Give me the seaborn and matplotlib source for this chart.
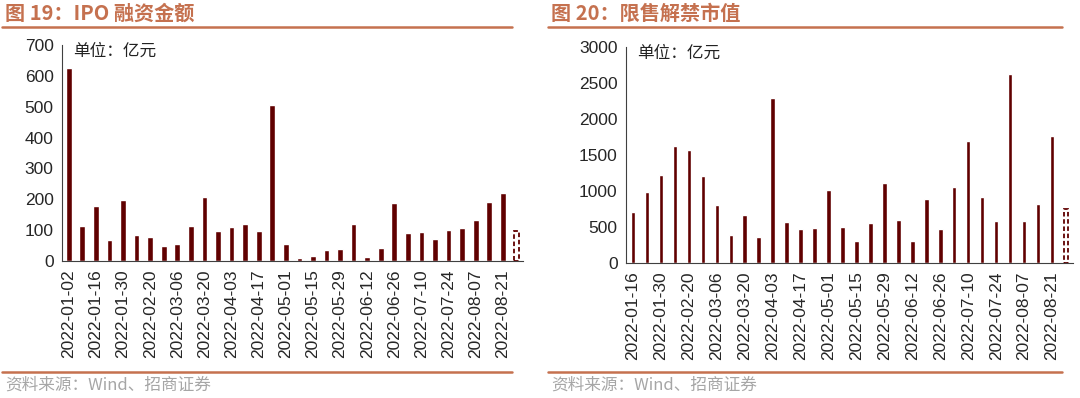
import numpy as np
import pandas as pd
import matplotlib
matplotlib.use('Agg')
import matplotlib.pyplot as plt
import seaborn as sns

# IPO 融资金额 (亿元), weekly; last value is the dashed (预计) bar
ipo_dates = ['2022-01-02', '2022-01-09', '2022-01-16', '2022-01-23', '2022-01-30',
             '2022-02-13', '2022-02-20', '2022-02-27', '2022-03-06', '2022-03-13',
             '2022-03-20', '2022-03-27', '2022-04-03', '2022-04-10', '2022-04-17',
             '2022-04-24', '2022-05-01', '2022-05-08', '2022-05-15', '2022-05-22',
             '2022-05-29', '2022-06-05', '2022-06-12', '2022-06-19', '2022-06-26',
             '2022-07-03', '2022-07-10', '2022-07-17', '2022-07-24', '2022-07-31',
             '2022-08-07', '2022-08-14', '2022-08-21', '2022-08-28']
ipo_values = [625, 113, 177, 68, 197, 85, 79, 48, 55, 113,
              208, 98, 111, 120, 97, 505, 54, 11, 18, 36,
              40, 119, 13, 42, 187, 90, 94, 72, 101, 106,
              133, 190, 219, 99]

# 限售解禁市值 (亿元)
unlock_dates = ipo_dates[2:]
unlock_values = [700, 975, 1213, 1625, 1565, 1199, 796, 380, 657, 352,
                 2292, 565, 468, 481, 1009, 495, 301, 551, 1102, 588,
                 296, 880, 472, 1046, 1690, 917, 579, 2616, 579, 810,
                 1755, 745]

ipo_ticks = [0, 100, 200, 300, 400, 500, 600, 700]
unlock_ticks = [0, 500, 1000, 1500, 2000, 2500, 3000]

bar_color = '#600000'
title_color = '#C5714F'

sns.set_style('white')
plt.rcParams['font.family'] = ['Liberation Sans', 'Noto Sans CJK SC', 'DejaVu Sans']
cjk = ['Noto Sans CJK SC', 'DejaVu Sans']

fig = plt.figure(figsize=(10.8, 3.98), dpi=100)


def draw_panel(rect, dates, values, yticks, width):
    ax = fig.add_axes(rect)
    df = pd.DataFrame({'date': dates, 'value': values})
    sns.barplot(data=df, x='date', y='value', color=bar_color, width=width,
                saturation=1, ax=ax)
    # last bar = dashed estimate
    last = ax.patches[-1]
    last.set_facecolor('white')
    last.set_edgecolor(bar_color)
    last.set_linestyle((0, (2.5, 1.5)))
    last.set_linewidth(1.3)
    ax.set_xlim(-0.5, len(dates) - 0.5)
    ax.set_ylim(yticks[0], yticks[-1])
    ax.set_yticks(yticks)
    ax.set_yticklabels([str(t) for t in yticks], fontsize=12.5)
    idx = list(range(0, len(dates) - 1, 2))
    ax.set_xticks(idx)
    ax.set_xticklabels([dates[i] for i in idx], rotation=90, fontsize=12.5)
    ax.tick_params(axis='both', length=0, pad=6)
    ax.set_xlabel('')
    ax.set_ylabel('')
    for s in ['top', 'right']:
        ax.spines[s].set_visible(False)
    ax.spines['left'].set_color('#404040')
    ax.spines['bottom'].set_color('#404040')
    ax.text(0.025, 0.969, '单位：亿元', transform=ax.transAxes, family=cjk,
            fontsize=12, va='center', ha='left', color='#222222')
    return ax


draw_panel([0.0574, 0.344, 0.427, 0.543], ipo_dates, ipo_values, ipo_ticks, 0.42)
draw_panel([0.5796, 0.340, 0.4139, 0.543], unlock_dates, unlock_values, unlock_ticks, 0.32)

# titles, rules and source notes
for x0, x1, title in [(0.004, 0.474, '图 19：IPO 融资金额'),
                      (0.509, 0.983, '图 20：限售解禁市值')]:
    fig.text(x0 + 0.001, 0.966, title, family=cjk, fontsize=14.5, fontweight='bold',
             color=title_color, va='center', ha='left')
    fig.add_artist(plt.Line2D([x0 - 0.002, x1], [0.932, 0.932], color=title_color, lw=1.8))
    fig.add_artist(plt.Line2D([x0 - 0.002, x1], [0.066, 0.066], color=title_color, lw=1.8))
    fig.text(x0 + 0.001, 0.032, '资料来源：Wind、招商证券', family=cjk, fontsize=12,
             color='#A6A6A6', va='center', ha='left')

fig.savefig('out.png', dpi=100)
